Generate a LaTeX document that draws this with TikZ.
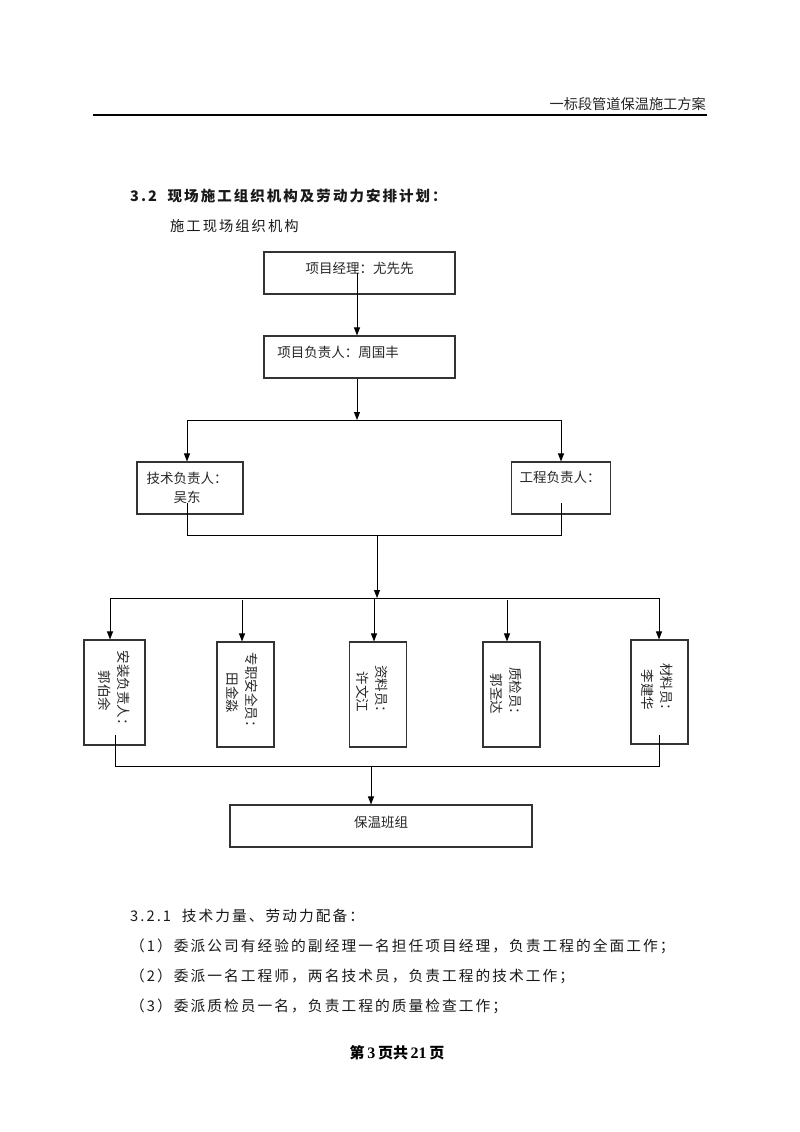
\documentclass[tikz,border=0pt]{standalone}
\usepackage{fontspec}
\setmainfont{Noto Sans CJK SC}
\newfontfamily\cjksp[LetterSpace=14]{Noto Sans CJK SC}
\newfontfamily\numfont{Liberation Serif}
\usetikzlibrary{arrows.meta}
\begin{document}
\begin{tikzpicture}[x=1pt,y=-1pt,
  box/.style={draw=black!80, line width=1.1pt, inner sep=0pt, minimum width=#1},
  boxh/.style={minimum height=#1},
  lbl/.style={inner sep=0pt, font=\fontsize{13.5}{19}\selectfont, text=black!85},
  vlbl/.style={inner sep=0pt, font=\fontsize{13.5}{19}\selectfont, text=black!85, rotate=-90, align=center},
  body/.style={inner sep=0pt, anchor=west, font=\cjksp\fontsize{14.7}{16}\selectfont, text=black!90},
  ln/.style={line width=0.9pt, draw=black},
  arr/.style={line width=0.9pt, draw=black, -{Triangle[length=8pt,width=6pt]}}
]
\useasboundingbox (0,0) rectangle (800,1132);
% header
\node[inner sep=0pt, anchor=east, font=\fontsize{14.2}{16}\selectfont, text=black!85] (hdr) at (706,104) {一标段管道保温施工方案};
\coordinate (hl) at (93,115);
\coordinate (hr) at (707,115);
\draw[line width=1.5pt] (hl) -- (hr);
% headings
\node[body, font=\cjksp\bfseries\fontsize{14.5}{16}\selectfont] (h32) at (130,196) {3.2\ \ 现场施工组织机构及劳动力安排计划：};
\node[body, font=\cjksp\fontsize{14.3}{16}\selectfont] (sub) at (170,226) {施工现场组织机构};
% boxes
\node[box=191pt, boxh=42pt] (b1) at (359.5,273) {};
\node[lbl] (t1) at (359.5,268) {项目经理：尤先先};
\node[box=191pt, boxh=42pt] (b2) at (359.5,357) {};
\node[lbl] (t2) at (338,352) {项目负责人：周国丰};
\node[box=106pt, boxh=52pt] (b3) at (190,488) {};
\node[lbl, align=center] (t3) at (187,487.5) {技术负责人：\\吴东};
\node[box=99pt, boxh=52pt] (b4) at (561,488) {};
\node[lbl] (t4) at (560,477) {工程负责人：};
\node[box=61pt, boxh=105pt] (bA) at (114.5,692.5) {};
\node[vlbl] (tA) at (114,691) {安装负责人：\\郭伯余};
\node[box=57pt, boxh=105pt] (bB) at (245.5,694.5) {};
\node[vlbl] (tB) at (242.5,693) {专职安全员：\\田金淼};
\node[box=57pt, boxh=105pt] (bC) at (378,694.5) {};
\node[vlbl] (tC) at (372.5,692) {资料员：\\许文江};
\node[box=57pt, boxh=105pt] (bD) at (511.5,694.5) {};
\node[vlbl] (tD) at (506,694) {质检员：\\郭圣达};
\node[box=57pt, boxh=104pt] (bE) at (659.5,692) {};
\node[vlbl] (tE) at (657,690) {材料员：\\李建华};
\node[box=302pt, boxh=42pt] (bF) at (381,826) {};
\node[lbl] (tF) at (381,822) {保温班组};
% connectors
\coordinate (s1) at (357,273);
\draw[arr] (s1) -- (s1 |- b2.north);
\coordinate (j1) at (357,420);
\coordinate (j1l) at (187,420);
\coordinate (j1r) at (561,420);
\draw[arr] (b2.south -| j1) -- (j1);
\draw[ln] (j1l) -- (j1r);
\draw[arr] (j1l) -- (j1l |- b3.north);
\draw[arr] (j1r) -- (j1r |- b4.north);
\coordinate (s3) at (187,503);
\coordinate (s4) at (561,503);
\coordinate (j2l) at (187,535);
\coordinate (j2r) at (561,535);
\coordinate (j2m) at (377,535);
\coordinate (j3) at (377,598);
\draw[ln] (s3) -- (j2l) -- (j2r) -- (s4);
\draw[arr] (j2m) -- (j3);
\coordinate (j3l) at (110,598);
\coordinate (j3r) at (659,598);
\draw[ln] (j3l) -- (j3r);
\draw[arr] (j3l) -- (j3l |- bA.north);
\coordinate (dB) at (242,600);
\draw[arr] (dB) -- (dB |- bB.north);
\coordinate (dC) at (374,598);
\draw[arr] (dC) -- (dC |- bC.north);
\coordinate (dD) at (507,600);
\draw[arr] (dD) -- (dD |- bD.north);
\draw[arr] (j3r) -- (j3r |- bE.north);
\coordinate (sA) at (115,735);
\coordinate (sE) at (659,735);
\coordinate (j4l) at (115,766);
\coordinate (j4r) at (659,766);
\coordinate (j4m) at (371,766);
\draw[ln] (sA) -- (j4l) -- (j4r) -- (sE);
\draw[arr] (j4m) -- (j4m |- bF.north);
% body text
\node[body] (p0) at (130,916) {3.2.1\ \ 技术力量、劳动力配备：};
\node[body] (p1) at (130,946) {（1）委派公司有经验的副经理一名担任项目经理，负责工程的全面工作；};
\node[body] (p2) at (130,976) {（2）委派一名工程师，两名技术员，负责工程的技术工作；};
\node[body] (p3) at (130,1006) {（3）委派质检员一名，负责工程的质量检查工作；};
\node[inner sep=0pt, font=\bfseries\fontsize{15}{17}\selectfont] (foot) at (397,1053) {第{\numfont\bfseries\fontsize{16}{17}\selectfont\,3\,}页共{\numfont\bfseries\fontsize{16}{17}\selectfont\,21\,}页};
\end{tikzpicture}
\end{document}
